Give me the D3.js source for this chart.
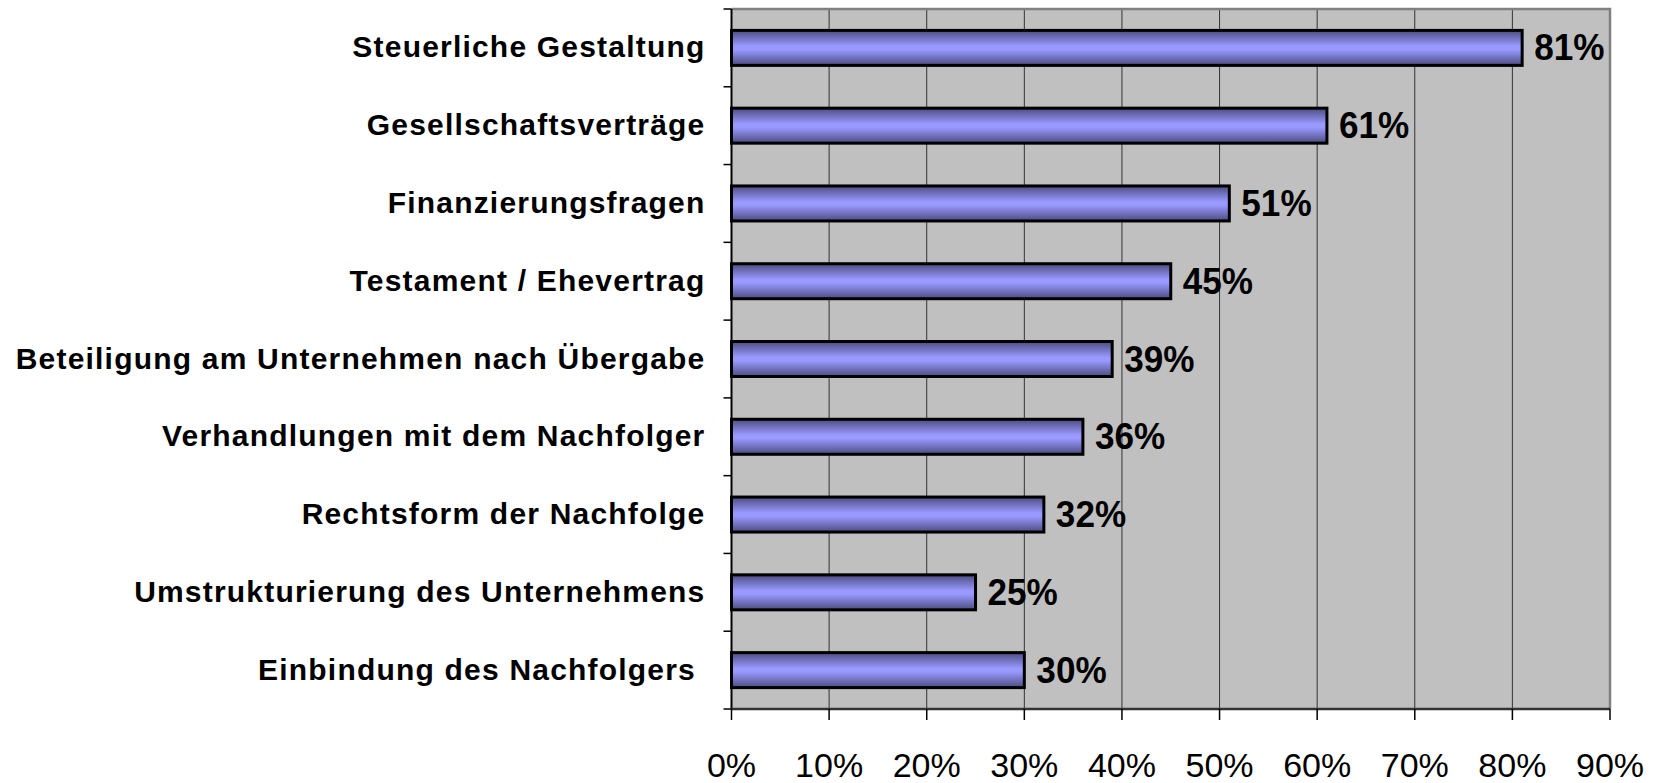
<!DOCTYPE html>
<html>
<head>
<meta charset="utf-8">
<script src="https://cdn.jsdelivr.net/npm/d3@7"></script>
<style>
  body { margin: 0; background: #fff; }
  svg { display: block; }
  text { font-family: "Liberation Sans", Arial, sans-serif; fill: #000; }
</style>
</head>
<body>
<svg id="chart" width="1654" height="783"></svg>
<script>
// data
var categories = [
    "Steuerliche Gestaltung",
    "Gesellschaftsverträge",
    "Finanzierungsfragen",
    "Testament / Ehevertrag",
    "Beteiligung am Unternehmen nach Übergabe",
    "Verhandlungen mit dem Nachfolger",
    "Rechtsform der Nachfolge",
    "Umstrukturierung des Unternehmens",
    "Einbindung des Nachfolgers "
];
var values = [81, 61, 51, 45, 39, 36, 32, 25, 30];
var tickValues = [0, 10, 20, 30, 40, 50, 60, 70, 80, 90];

var svg = d3.select("#chart");

// plot box (note: "top" is taken by window.top, hence the prefix)
var plotLeft = 731.5, plotRight = 1610, plotTop = 9, plotBottom = 709;

var x = d3.scaleLinear().domain([0, 90]).range([plotLeft, plotRight]);
var y = d3.scaleBand().domain(categories).range([plotTop, plotBottom]).paddingInner(0.55).paddingOuter(0.275);
var yb = d3.scaleBand().domain(categories).range([plotTop, plotBottom]); // full bands for ticks & labels

// gradient for the bars
var grad = svg.append("defs").append("linearGradient")
    .attr("id", "barGrad").attr("x1", 0).attr("y1", 0).attr("x2", 0).attr("y2", 1);
grad.append("stop").attr("offset", "0%").attr("stop-color", "#4c4c80");
grad.append("stop").attr("offset", "45%").attr("stop-color", "#9999ff");
grad.append("stop").attr("offset", "55%").attr("stop-color", "#9999ff");
grad.append("stop").attr("offset", "100%").attr("stop-color", "#4c4c80");

// plot background
svg.append("rect")
    .attr("x", plotLeft).attr("y", plotTop)
    .attr("width", plotRight - plotLeft).attr("height", plotBottom - plotTop)
    .attr("fill", "#c0c0c0");

// vertical grid
svg.append("g").selectAll("line")
    .data(tickValues.slice(1, -1))
    .join("line")
    .attr("x1", d => x(d)).attr("x2", d => x(d))
    .attr("y1", plotTop).attr("y2", plotBottom)
    .attr("stroke", "#333").attr("stroke-width", 1);

// plot border top/right
svg.append("path")
    .attr("d", "M" + plotLeft + "," + plotTop + "H" + plotRight + "V" + plotBottom)
    .attr("fill", "none").attr("stroke", "#808080").attr("stroke-width", 2.5);

// bars
svg.append("g").selectAll("rect")
    .data(values)
    .join("rect")
    .attr("x", x(0))
    .attr("y", (d, i) => y(categories[i]))
    .attr("width", d => x(d) - x(0))
    .attr("height", y.bandwidth())
    .attr("fill", "url(#barGrad)")
    .attr("stroke", "#000").attr("stroke-width", 3);

// value labels
svg.append("g").selectAll("text")
    .data(values)
    .join("text")
    .attr("transform", (d, i) => "translate(" + (x(d) + 12) + "," + (y(categories[i]) + y.bandwidth() / 2 + 12.5) + ") scale(0.95,1)")
    .attr("font-size", 37).attr("font-weight", "bold")
    .text(d => d + "%");

// y axis
var yAxis = svg.append("g");
yAxis.append("line")
    .attr("x1", plotLeft).attr("x2", plotLeft).attr("y1", plotTop).attr("y2", plotBottom)
    .attr("stroke", "#000").attr("stroke-width", 2);
yAxis.selectAll("line.tk")
    .data(d3.range(categories.length + 1))
    .join("line").attr("class", "tk")
    .attr("x1", plotLeft - 8).attr("x2", plotLeft)
    .attr("y1", d => plotTop + d * yb.step()).attr("y2", d => plotTop + d * yb.step())
    .attr("stroke", "#000").attr("stroke-width", 1.5);
yAxis.selectAll("text")
    .data(categories)
    .join("text")
    .attr("x", plotLeft - 26)
    .attr("y", d => yb(d) + yb.bandwidth() / 2 + 9.5)
    .attr("text-anchor", "end")
    .attr("font-size", 30).attr("font-weight", "bold")
    .attr("letter-spacing", 1.2)
    .style("white-space", "pre")
    .text(d => d);

// x axis
var xAxis = svg.append("g");
xAxis.append("line")
    .attr("x1", plotLeft).attr("x2", plotRight).attr("y1", plotBottom).attr("y2", plotBottom)
    .attr("stroke", "#333").attr("stroke-width", 2.5);
xAxis.selectAll("line.tk")
    .data(tickValues)
    .join("line").attr("class", "tk")
    .attr("x1", d => x(d)).attr("x2", d => x(d))
    .attr("y1", plotBottom).attr("y2", plotBottom + 11)
    .attr("stroke", "#000").attr("stroke-width", 1.5);
xAxis.selectAll("text")
    .data(tickValues)
    .join("text")
    .attr("x", d => x(d))
    .attr("y", 777)
    .attr("text-anchor", "middle")
    .attr("font-size", 34)
    .text(d => d + "%");
</script>
</body>
</html>
